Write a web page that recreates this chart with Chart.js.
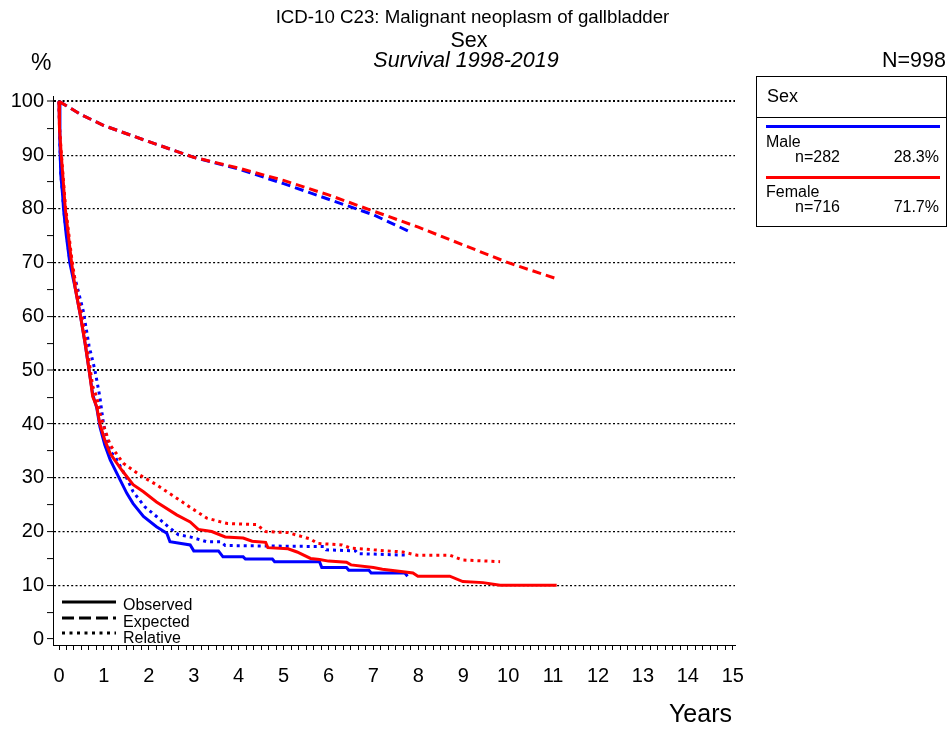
<!DOCTYPE html>
<html>
<head>
<meta charset="utf-8">
<script src="https://cdn.jsdelivr.net/npm/chart.js@4/dist/chart.umd.min.js"></script>
<style>
  html, body { margin:0; padding:0; background:#fff; }
  body { width:949px; height:729px; position:relative; overflow:hidden; font-family:"Liberation Sans", Arial, sans-serif; color:#000; }
  #c { position:absolute; left:0; top:0; }
  .t { position:absolute; line-height:1; white-space:nowrap; }
</style>
</head>
<body>
<canvas id="c" width="949" height="729"></canvas>

<div class="t" style="left:0;width:945px;text-align:center;top:8px;font-size:18.7px;">ICD-10 C23: Malignant neoplasm of gallbladder</div>
<div class="t" style="left:0;width:938px;text-align:center;top:30px;font-size:21.5px;">Sex</div>
<div class="t" style="left:0;width:932px;text-align:center;top:50px;font-size:21.5px;font-style:italic;">Survival 1998-2019</div>
<div class="t" style="left:31px;top:51px;font-size:23px;">%</div>
<div class="t" style="right:3px;top:50px;font-size:21.5px;">N=998</div>
<div class="t" style="right:217px;top:701px;font-size:25px;">Years</div>

<div style="position:absolute;left:756px;top:76px;width:191px;height:151px;border:1px solid #000;box-sizing:border-box;">
  <div style="position:absolute;left:0;top:40px;width:100%;height:0;border-top:1px solid #000;"></div>
  <div class="t" style="left:10px;top:10px;font-size:18px;">Sex</div>
  <div style="position:absolute;left:9px;top:48px;width:174px;height:3px;background:#0000ff;"></div>
  <div class="t" style="left:9px;top:57px;font-size:16px;">Male</div>
  <div class="t" style="left:38px;top:72px;font-size:16px;">n=282</div>
  <div class="t" style="right:7px;top:72px;font-size:16px;">28.3%</div>
  <div style="position:absolute;left:9px;top:99px;width:174px;height:3px;background:#ff0000;"></div>
  <div class="t" style="left:9px;top:107px;font-size:16px;">Female</div>
  <div class="t" style="left:38px;top:122px;font-size:16px;">n=716</div>
  <div class="t" style="right:7px;top:122px;font-size:16px;">71.7%</div>
</div>

<svg style="position:absolute;left:60px;top:592px;" width="60" height="46">
  <line x1="2" y1="10" x2="56" y2="10" stroke="#000" stroke-width="3"/>
  <line x1="2" y1="26" x2="56" y2="26" stroke="#000" stroke-width="3" stroke-dasharray="12,5"/>
  <line x1="2" y1="41" x2="56" y2="41" stroke="#000" stroke-width="3" stroke-dasharray="3,4.5"/>
</svg>
<div class="t" style="left:123px;top:597px;font-size:16px;">Observed</div>
<div class="t" style="left:123px;top:614px;font-size:16px;">Expected</div>
<div class="t" style="left:123px;top:630px;font-size:16px;">Relative</div>

<script>
// ---- data (years, survival %) ----
const maleObsT = [0,0.02,0.04,0.08,0.1,0.16,0.24,0.36,0.48,0.58,0.67,0.75,0.84,0.91,1.02,1.14,1.36,1.51,1.65,1.88,2.17,2.4,2.47,2.92,3.0,3.55,3.65,4.1,4.15,4.75,4.8,5.8,5.85,6.4,6.45,6.9,6.95,7.7,7.76];
const maleObsV = [100,92,86.3,82.6,80,75.2,70,65.3,60,55,50,45.5,43,39.5,36.1,33.3,29.6,27.1,25.2,22.8,20.9,19.7,18.1,17.5,16.4,16.4,15.3,15.3,14.9,14.9,14.4,14.4,13.3,13.3,12.8,12.8,12.3,12.3,11.7];

const maleRelT = [0,0.02,0.04,0.08,0.1,0.16,0.24,0.39,0.54,0.67,0.8,0.91,0.99,1.13,1.25,1.51,1.65,1.91,2.17,2.43,2.66,2.92,3.29,3.6,3.7,5.9,5.95,6.6,6.65,7.76];
const maleRelV = [100,92.1,86.5,82.9,80.3,75.6,70.5,66,61,54.5,50,45,40,35,33.9,29.9,27.4,24.6,22.8,20.9,19.4,19.0,18.1,18.1,17.4,17.2,16.6,16.4,15.9,15.6];

const maleExpT = [0,0.5,1,2,3,4,5,6,7,7.8];
const maleExpV = [100,97.5,95.5,92.5,89.6,87.4,84.7,81.8,78.9,75.8];

const femaleObsT = [0,0.01,0.05,0.14,0.28,0.36,0.48,0.58,0.67,0.75,0.84,0.91,1.02,1.14,1.4,1.65,1.88,2.17,2.62,2.92,3.1,3.4,3.7,4.1,4.3,4.6,4.65,5.1,5.3,5.6,5.8,6.0,6.4,6.5,7.0,7.2,7.88,7.99,8.7,8.99,9.44,9.82,11.08];
const femaleObsV = [100,95,90,80,70,65.3,60,55,50,45.1,43.2,40,37,34.5,31.4,28.7,27.4,25.5,23.1,21.8,20.4,20.0,19.0,18.8,18.2,18.0,17.0,16.8,16.2,15.0,14.8,14.5,14.3,13.8,13.3,13.0,12.3,11.7,11.7,10.7,10.5,10.0,10.0];

const femaleRelT = [0,0.01,0.05,0.14,0.28,0.36,0.48,0.58,0.67,0.75,0.84,0.91,1.02,1.14,1.43,1.8,2.17,2.62,2.92,3.29,3.6,3.75,4.4,4.6,5.1,5.6,5.75,6.3,6.5,6.85,7.14,7.66,7.97,8.7,8.99,9.82];
const femaleRelV = [100,95.2,90.5,80.8,71,66.5,61.4,56.5,51.7,47,45,42,39,36.1,32.7,30.5,28.7,26.2,24.5,22.5,21.8,21.5,21.3,20.0,19.8,18.6,17.8,17.5,16.9,16.7,16.5,16.2,15.6,15.6,14.7,14.4];

const femaleExpT = [0,0.5,1,2,3,4,5,6,7,8,9,10,11.08];
const femaleExpV = [100,97.5,95.5,92.5,89.6,87.6,85.3,82.6,79.6,76.6,73.3,70.0,67.0];

const xTickLabels = ['0','1','2','3','4','5','6','7','8','9','10','11','12','13','14','15'];
const yTickLabels = ['0','10','20','30','40','50','60','70','80','90','100'];

const BLUE = '#0000ff', RED = '#ff0000';
const pts = (t, v) => t.map((x, i) => ({x, y: v[i]}));
const ds = (t, v, color, dash, order) => ({
  data: pts(t, v), borderColor: color, backgroundColor: color, borderWidth: 3,
  borderDash: dash, pointRadius: 0, tension: 0, fill: false, borderCapStyle: 'butt', order
});

const FONT = {family: '"Liberation Sans", Arial, sans-serif', size: 20};

new Chart(document.getElementById('c'), {
  type: 'line',
  data: {
    datasets: [
      ds(femaleObsT, femaleObsV, RED, [], 1),
      ds(femaleRelT, femaleRelV, RED, [3, 4], 2),
      ds(femaleExpT, femaleExpV, RED, [9, 5], 3),
      ds(maleObsT, maleObsV, BLUE, [], 4),
      ds(maleRelT, maleRelV, BLUE, [3, 4], 5),
      ds(maleExpT, maleExpV, BLUE, [9, 5], 6),
    ]
  },
  options: {
    responsive: false, animation: false, devicePixelRatio: 1,
    layout: {padding: {top: 96, right: 214, left: 0, bottom: 0}},
    plugins: {legend: {display: false}, tooltip: {enabled: false}, title: {display: false}},
    scales: {
      x: {
        type: 'linear', min: -0.134, max: 15.05,
        afterBuildTicks: s => { const a = []; for (let k = 0; k <= 90; k++) a.push({value: k / 6}); s.ticks = a; },
        afterFit: s => { s.height = 84; },
        ticks: {
          autoSkip: false, maxRotation: 0, color: '#000', font: FONT, padding: 14,
          callback: (v) => { const r = Math.round(v); return Math.abs(v - r) < 1e-6 ? xTickLabels[r] : ''; }
        },
        grid: {drawOnChartArea: false, drawTicks: true, tickLength: 5, tickColor: '#000', tickWidth: 1},
        border: {display: true, color: '#000', width: 1}
      },
      y: {
        type: 'linear', min: -1.1, max: 101,
        afterBuildTicks: s => { const a = []; for (let k = 0; k <= 20; k++) a.push({value: k * 5}); s.ticks = a; },
        afterFit: s => { s.width = 53; },
        ticks: {
          autoSkip: false, color: '#000', font: FONT, padding: 3,
          callback: (v) => (v % 10 === 0 ? yTickLabels[v / 10] : '')
        },
        grid: {
          drawTicks: true, tickLength: 6, tickColor: '#000', tickWidth: 1,
          color: c => (c.tick && c.tick.value % 10 === 0 && c.tick.value > 0) ? '#000' : 'rgba(0,0,0,0)',
          lineWidth: c => (c.tick && (c.tick.value === 100 || c.tick.value === 50)) ? 2 : 1.2
        },
        border: {display: true, color: '#000', width: 1, dash: [2, 2.3]}
      }
    }
  }
});
</script>
</body>
</html>
